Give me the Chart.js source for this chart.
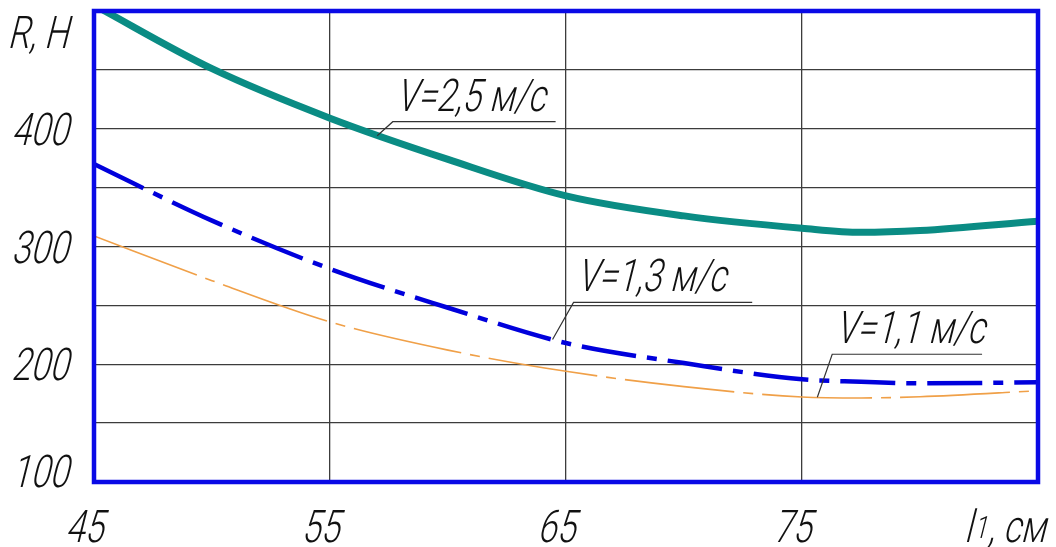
<!DOCTYPE html>
<html><head><meta charset="utf-8">
<script src="https://cdn.jsdelivr.net/npm/chart.js@4/dist/chart.umd.min.js"></script>
<style>html,body{margin:0;padding:0;background:#fff;overflow:hidden}#wrap{width:1056px;height:547px;position:relative}</style>
</head><body><div id="wrap"><canvas id="c"></canvas></div>
<script>
// ---- data ----
const lengths = [45, 50, 55, 60, 65, 70, 75, 77.5, 80, 85];                  // l1, cm
const rV25 = [505, 451, 409, 374, 343, 326, 315.5, 312, 313.5, 321.5];      // R, N at V=2.5 m/s
const rV13 = [370, 322, 281, 248, 218, 201, 187.2, 185.2, 183.8, 184.7];    // R, N at V=1.3 m/s
const rV11 = [309, 271, 236, 212, 194, 181, 172.2, 171.4, 172.4, 177.5];    // R, N at V=1.1 m/s
const seriesLabels = ['V=2,5 м/с', 'V=1,3 м/с', 'V=1,1 м/с'];
const xTickValues = [45, 55, 65, 75, 85];
const xTickLabels = ['45', '55', '65', '75', ''];
const yTickValues = [100, 150, 200, 250, 300, 350, 400, 450, 500];
const yTickLabels = { 100: '100', 200: '200', 300: '300', 400: '400', 500: 'R, H' };
const xAxisName = ['l', '1', ', см'];

// leader-line callouts (data coordinates)
const callouts = [
  { ax: 57.0,  ay: 394, ux: 57.66, uy: 406,   ux2: 64.56 },
  { ax: 64.43, ay: 221, ux: 65.32, uy: 252.5, ux2: 72.89 },
  { ax: 75.65, ay: 172, ux: 76.28, uy: 208.5, ux2: 82.63 }
];

const FAMILY = 'Roboto, "Liberation Sans", sans-serif';
const WEIGHT = '300';
const SX = 0.76, SKEW = 0.25;

// condensed, slanted drafting-style text
function gText(ctx, text, x, y, align, size) {
  ctx.save();
  ctx.font = WEIGHT + ' ' + size + 'px ' + FAMILY;
  const w = ctx.measureText(text).width * SX;
  let x0 = x;
  if (align === 'right') x0 = x - w;
  else if (align === 'center') x0 = x - w / 2;
  ctx.translate(x0, y);
  ctx.transform(SX, 0, -SKEW, 1, 0, 0);
  ctx.textAlign = 'left';
  ctx.textBaseline = 'alphabetic';
  ctx.fillText(text, 0, 0);
  ctx.restore();
  return w;
}

const pts = arr => lengths.map((x, i) => ({ x: x, y: arr[i] }));

const drawingPlugin = {
  id: 'drawing',
  afterDatasetsDraw(chart) {
    const ctx = chart.ctx, a = chart.chartArea;
    const xs = chart.scales.x, ys = chart.scales.y;
    ctx.save();
    // frame
    ctx.strokeStyle = '#0a0ae6';
    ctx.lineWidth = 4.5;
    ctx.strokeRect(a.left, a.top, a.right - a.left, a.bottom - a.top);

    ctx.fillStyle = '#111';
    // y labels
    yTickValues.forEach(v => {
      const t = yTickLabels[v];
      if (!t) return;
      let cy = ys.getPixelForValue(v);
      cy = Math.max(32, Math.min(471, cy));
      gText(ctx, t, a.left - 26, cy + 16, 'right', 45);
    });
    // x labels
    xTickValues.forEach((v, i) => {
      const t = xTickLabels[i];
      if (!t) return;
      gText(ctx, t, xs.getPixelForValue(v) - 10, 542, 'center', 45);
    });
    // x axis name  l1, см
    let px = 964;
    px += gText(ctx, xAxisName[0], px, 542, 'left', 45) + 2;
    px += gText(ctx, xAxisName[1], px, 538, 'left', 31) + 1;
    gText(ctx, xAxisName[2], px, 542, 'left', 45);

    // callouts
    callouts.forEach((c, i) => {
      const ax = xs.getPixelForValue(c.ax), ay = ys.getPixelForValue(c.ay);
      const ux = xs.getPixelForValue(c.ux), uy = ys.getPixelForValue(c.uy);
      const ux2 = xs.getPixelForValue(c.ux2);
      ctx.strokeStyle = '#333';
      ctx.lineWidth = 1.2;
      ctx.beginPath();
      ctx.moveTo(ax, ay);
      ctx.lineTo(ux, uy);
      ctx.lineTo(ux2, uy);
      ctx.stroke();
      gText(ctx, seriesLabels[i], ux + 3, uy - 11, 'left', 45);
    });
    ctx.restore();
  }
};

new Chart(document.getElementById('c'), {
  type: 'line',
  data: {
    datasets: [
      { label: seriesLabels[0], data: pts(rV25), borderColor: '#0a8c84', borderWidth: 7,
        pointRadius: 0, cubicInterpolationMode: 'monotone', clip: 0, borderCapStyle: 'butt' },
      { label: seriesLabels[1], data: pts(rV13), borderColor: '#0000dc', borderWidth: 4.5,
        borderDash: [55, 11, 10, 11], pointRadius: 0, cubicInterpolationMode: 'monotone', clip: 0, borderCapStyle: 'butt' },
      { label: seriesLabels[2], data: pts(rV11), borderColor: '#f0a048', borderWidth: 1.6,
        borderDash: [110, 9, 10, 9], pointRadius: 0, cubicInterpolationMode: 'monotone', clip: 0, borderCapStyle: 'butt' }
    ]
  },
  options: {
    responsive: true,
    maintainAspectRatio: false,
    animation: false,
    layout: { padding: { left: 94, top: 11, right: 18, bottom: 65 } },
    plugins: { legend: { display: false }, tooltip: { enabled: false } },
    scales: {
      x: {
        type: 'linear', min: 45, max: 85,
        afterBuildTicks: s => { s.ticks = xTickValues.map(v => ({ value: v })); },
        ticks: { display: false },
        grid: { color: '#3c3c3c', lineWidth: 1.3, drawTicks: false },
        border: { display: false }
      },
      y: {
        type: 'linear', min: 100, max: 500,
        afterBuildTicks: s => { s.ticks = yTickValues.map(v => ({ value: v })); },
        ticks: { display: false },
        grid: { color: '#3c3c3c', lineWidth: 1.3, drawTicks: false },
        border: { display: false }
      }
    }
  },
  plugins: [drawingPlugin]
});
</script>
</body></html>
